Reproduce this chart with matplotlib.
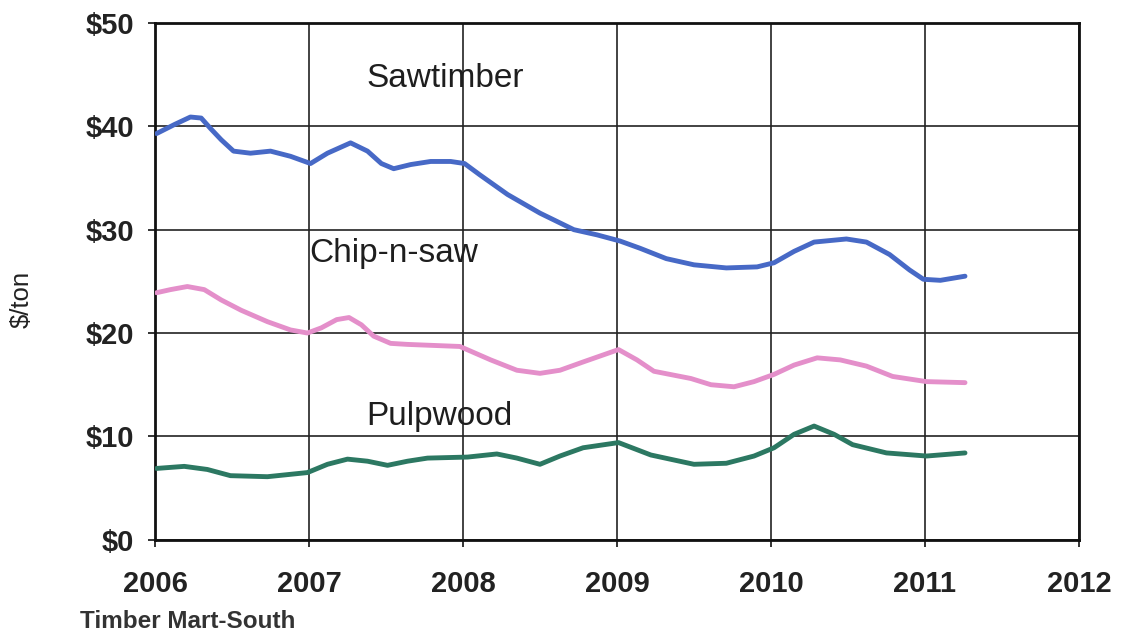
import matplotlib
matplotlib.use("Agg")
import matplotlib.pyplot as plt
from matplotlib.ticker import FuncFormatter

plt.rcParams['font.family'] = ['Liberation Sans', 'DejaVu Sans']

# Southern pine stumpage prices ($/ton), Timber Mart-South
saw_x = [2006.01, 2006.13, 2006.23, 2006.30, 2006.36, 2006.43, 2006.51, 2006.62, 2006.75,
         2006.88, 2007.01, 2007.12, 2007.27, 2007.38, 2007.47, 2007.55, 2007.66, 2007.79,
         2007.92, 2008.01, 2008.11, 2008.29, 2008.50, 2008.72, 2008.87, 2009.02, 2009.15,
         2009.32, 2009.50, 2009.71, 2009.91, 2010.02, 2010.15, 2010.28, 2010.49, 2010.62,
         2010.77, 2010.90, 2010.99, 2011.10, 2011.26]
saw_y = [39.3, 40.2, 40.9, 40.8, 39.8, 38.7, 37.6, 37.4, 37.6,
         37.1, 36.4, 37.4, 38.4, 37.6, 36.4, 35.9, 36.3, 36.6,
         36.6, 36.4, 35.3, 33.4, 31.6, 30.0, 29.5, 28.9, 28.2,
         27.2, 26.6, 26.3, 26.4, 26.8, 27.9, 28.8, 29.1, 28.8,
         27.6, 26.1, 25.2, 25.1, 25.5]

cns_x = [2006.01, 2006.10, 2006.21, 2006.32, 2006.43, 2006.56, 2006.73, 2006.88, 2006.99,
         2007.08, 2007.18, 2007.26, 2007.34, 2007.42, 2007.53, 2007.64, 2007.98, 2008.18,
         2008.35, 2008.50, 2008.63, 2008.78, 2009.01, 2009.13, 2009.24, 2009.48, 2009.61,
         2009.76, 2009.89, 2010.02, 2010.15, 2010.30, 2010.45, 2010.62, 2010.79, 2011.01,
         2011.26]
cns_y = [23.9, 24.2, 24.5, 24.2, 23.2, 22.2, 21.1, 20.3, 20.0,
         20.5, 21.3, 21.5, 20.8, 19.7, 19.0, 18.9, 18.7, 17.4,
         16.4, 16.1, 16.4, 17.2, 18.4, 17.4, 16.3, 15.6, 15.0,
         14.8, 15.3, 16.0, 16.9, 17.6, 17.4, 16.8, 15.8, 15.3,
         15.2]

pulp_x = [2006.01, 2006.19, 2006.34, 2006.49, 2006.73, 2006.99, 2007.12, 2007.25, 2007.38,
          2007.51, 2007.64, 2007.77, 2008.03, 2008.22, 2008.35, 2008.50, 2008.63, 2008.78,
          2009.01, 2009.22, 2009.50, 2009.71, 2009.89, 2010.02, 2010.15, 2010.28, 2010.41,
          2010.53, 2010.75, 2011.01, 2011.26]
pulp_y = [6.9, 7.1, 6.8, 6.2, 6.1, 6.5, 7.3, 7.8, 7.6,
          7.2, 7.6, 7.9, 8.0, 8.3, 7.9, 7.3, 8.1, 8.9,
          9.4, 8.2, 7.3, 7.4, 8.1, 8.9, 10.2, 11.0, 10.2,
          9.2, 8.4, 8.1, 8.4]

year_ticks = [2006, 2007, 2008, 2009, 2010, 2011, 2012]
price_ticks = [0, 10, 20, 30, 40, 50]

fig = plt.figure(figsize=(11.33, 6.38), dpi=100)
ax = fig.add_axes([0.1368, 0.154, 0.8155, 0.810])

line_kw = dict(lw=3.5, solid_capstyle='round', solid_joinstyle='round', zorder=3)
ax.plot(saw_x, saw_y, color='#4769c6', **line_kw)
ax.plot(cns_x, cns_y, color='#e48fca', **line_kw)
ax.plot(pulp_x, pulp_y, color='#2c7862', **line_kw)

ax.set_xlim(2006, 2012)
ax.set_ylim(0, 50)
ax.set_xticks(year_ticks)
ax.set_yticks(price_ticks)
ax.yaxis.set_major_formatter(FuncFormatter(lambda v, p: f"${v:.0f}"))
ax.grid(True, color='#222222', lw=1.2)
ax.set_axisbelow(True)
for s in ax.spines.values():
    s.set_linewidth(2.0)
    s.set_color('#111111')
ax.tick_params(axis='both', direction='out', length=5, width=1.2, colors='#111111',
               labelsize=21)
ax.tick_params(axis='y', pad=10)
ax.tick_params(axis='x', pad=17)
for lab in ax.get_xticklabels() + ax.get_yticklabels():
    lab.set_fontweight('bold')
    lab.set_color('#222222')

fig.text(0.0195, 0.53, '$/ton', fontsize=18.5, rotation=90, color='#222222',
         ha='center', va='center')

ax.text(2007.37, 43.8, 'Sawtimber', fontsize=24, color='#1e1e1e')
ax.text(2007.0, 26.9, 'Chip-n-saw', fontsize=24, color='#1e1e1e')
ax.text(2007.37, 11.1, 'Pulpwood', fontsize=24, color='#1e1e1e')

fig.text(0.0706, 0.0157, 'Timber Mart-South', fontsize=17.5, fontweight='bold',
         color='#333333')

fig.savefig('out.png', dpi=100, facecolor='white')
